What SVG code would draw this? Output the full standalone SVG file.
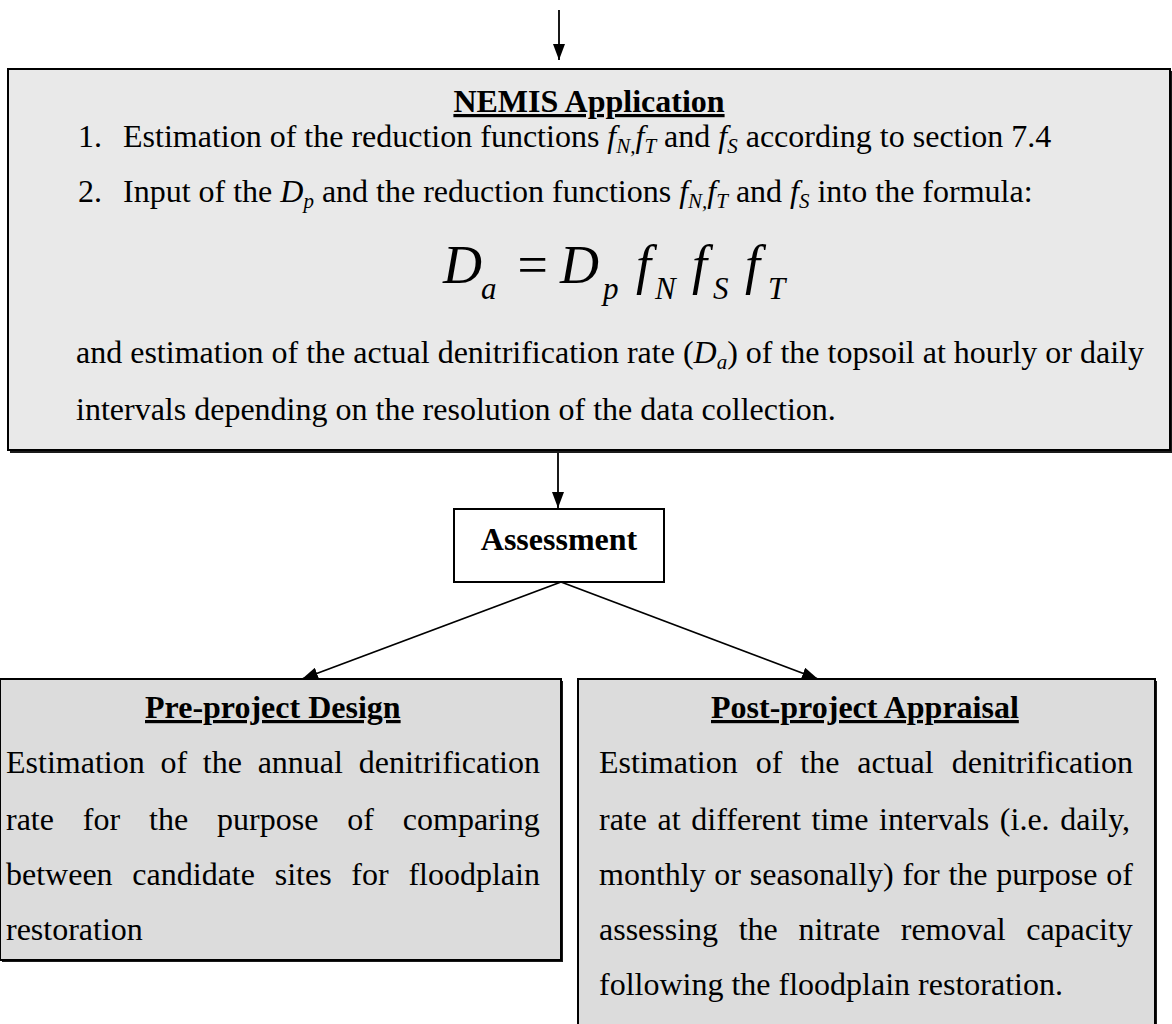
<svg xmlns="http://www.w3.org/2000/svg" width="1172" height="1024" viewBox="0 0 1172 1024">
  <style>
    text { font-family: "Liberation Serif", "Times New Roman", serif; fill: #000; }
    .body { font-size: 32px; }
    .title { font-size: 32px; font-weight: bold; text-decoration: underline; }
    .head { font-size: 32px; font-weight: bold; }
    .i { font-style: italic; }
    .sub { font-style: italic; font-size: 21px; }
    .eq { font-size: 54px; font-style: italic; }
    .eqsub { font-size: 31px; font-style: italic; }
    .box { stroke: #000; stroke-width: 2; }
    .shadow { fill: #1a1a1a; }
    .conn { stroke: #000; stroke-width: 1.8; fill: none; marker-end: url(#arrow); }
  </style>
  <defs>
    <marker id="arrow" viewBox="0 0 16 12" refX="16" refY="6" markerWidth="16" markerHeight="12" markerUnits="userSpaceOnUse" orient="auto">
      <path d="M0,0 L16,6 L0,12 z" fill="#000"/>
    </marker>
  </defs>

  <rect width="1172" height="1024" fill="#fff"/>

  <!-- connectors -->
  <g id="connectors">
    <line class="conn" x1="559" y1="10" x2="559" y2="60"/>
    <line class="conn" x1="558" y1="451" x2="558" y2="508"/>
    <line class="conn" x1="561" y1="582" x2="302" y2="679"/>
    <line class="conn" x1="561" y1="582" x2="818" y2="679"/>
  </g>

  <!-- NEMIS application step -->
  <g id="nemis">
    <rect class="shadow" x="10" y="71" width="1163" height="382"/>
    <rect class="box" x="8" y="69" width="1162" height="381" fill="#e9e9e9"/>
    <text class="title" x="589" y="112" text-anchor="middle">NEMIS Application</text>
    <text class="body" x="78" y="147">1.</text>
    <text class="body" x="123" y="147">Estimation of the reduction functions <tspan class="i">f</tspan><tspan class="sub" dy="6">N,</tspan><tspan class="i" dy="-6">f</tspan><tspan class="sub" dy="6">T</tspan><tspan dy="-6"> and </tspan><tspan class="i">f</tspan><tspan class="sub" dy="6">S</tspan><tspan dy="-6"> according to section 7.4</tspan></text>
    <text class="body" x="78" y="202">2.</text>
    <text class="body" x="123" y="202">Input of the <tspan class="i">D</tspan><tspan class="sub" dy="6">p</tspan><tspan dy="-6"> and the reduction functions </tspan><tspan class="i">f</tspan><tspan class="sub" dy="6">N,</tspan><tspan class="i" dy="-6">f</tspan><tspan class="sub" dy="6">T</tspan><tspan dy="-6"> and </tspan><tspan class="i">f</tspan><tspan class="sub" dy="6">S</tspan><tspan dy="-6"> into the formula:</tspan></text>
    <text x="443" y="283"><tspan class="eq">D</tspan><tspan class="eqsub" x="481" y="299">a</tspan><tspan class="eq" x="514" y="283" font-style="normal">=</tspan><tspan class="eq" x="560" y="283">D</tspan><tspan class="eqsub" x="603" y="299">p</tspan><tspan class="eq" x="636" y="283">f</tspan><tspan class="eqsub" x="655" y="299">N</tspan><tspan class="eq" x="692" y="283">f</tspan><tspan class="eqsub" x="713" y="299">S</tspan><tspan class="eq" x="745" y="283">f</tspan><tspan class="eqsub" x="768" y="299">T</tspan></text>
    <text class="body" x="76" y="363">and estimation of the actual denitrification rate (<tspan class="i">D</tspan><tspan class="sub" dy="6">a</tspan><tspan dy="-6">) of the topsoil at hourly or daily</tspan></text>
    <text class="body" x="76" y="420">intervals depending on the resolution of the data collection.</text>
  </g>

  <!-- Assessment -->
  <g id="assessment">
    <rect class="box" x="454" y="509" width="210" height="73" fill="#fff"/>
    <text class="head" x="559" y="550" text-anchor="middle">Assessment</text>
  </g>

  <!-- Pre-project design -->
  <g id="pre-project">
    <rect class="shadow" x="2" y="681" width="561" height="281"/>
    <rect class="box" x="0" y="679" width="561" height="281" fill="#dcdcdc"/>
    <text class="title" x="145" y="718">Pre-project Design</text>
    <text class="body" x="6" y="773" word-spacing="7.75">Estimation of the annual denitrification</text>
    <text class="body" x="6" y="830" word-spacing="20.9">rate for the purpose of comparing</text>
    <text class="body" x="6" y="885" word-spacing="11.75">between candidate sites for floodplain</text>
    <text class="body" x="6" y="940">restoration</text>
  </g>

  <!-- Post-project appraisal -->
  <g id="post-project">
    <rect class="shadow" x="580" y="681" width="577" height="360"/>
    <rect class="box" x="578" y="679" width="577" height="360" fill="#dcdcdc"/>
    <text class="title" x="711" y="718">Post-project Appraisal</text>
    <text class="body" x="599" y="773" word-spacing="9.97">Estimation of the actual denitrification</text>
    <text class="body" x="599" y="830" word-spacing="2.63">rate at different time intervals (i.e. daily,</text>
    <text class="body" x="599" y="885" word-spacing="0.7">monthly or seasonally) for the purpose of</text>
    <text class="body" x="599" y="940" word-spacing="12.6">assessing the nitrate removal capacity</text>
    <text class="body" x="599" y="995">following the floodplain restoration.</text>
  </g>
</svg>
